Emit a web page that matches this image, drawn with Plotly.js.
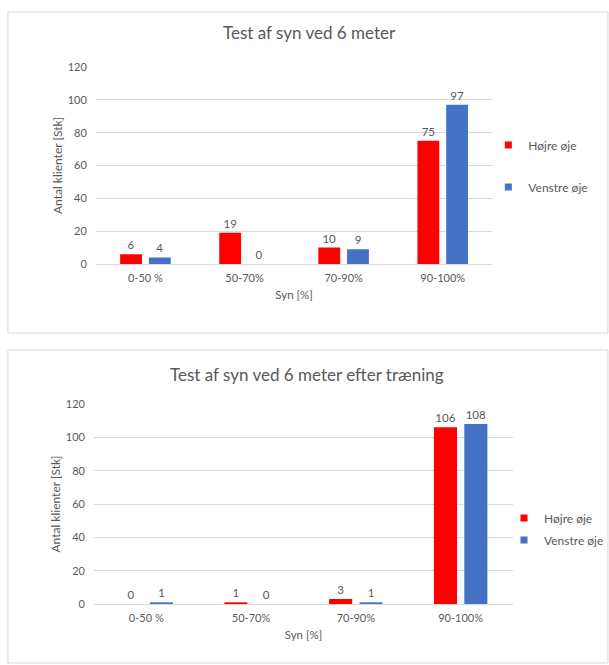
<!DOCTYPE html>
<html>
<head>
<meta charset="utf-8">
<script src="https://cdn.plot.ly/plotly-3.0.1.min.js"></script>
<style>
  html, body { margin: 0; padding: 0; background: #ffffff; }
  #chart { width: 609px; height: 665px; }
</style>
</head>
<body>
<div id="chart"></div>
<script>
// Vision test results by visual acuity band, before and after training
const categories = ['0-50 %', '50-70%', '70-90%', '90-100%'];
const seriesNames = ['Højre øje', 'Venstre øje'];

const beforeRight = [6, 19, 10, 75];
const beforeLeft = [4, 0, 9, 97];

const afterRight = [0, 1, 3, 106];
const afterLeft = [1, 0, 1, 108];

const titles = ['Test af syn ved 6 meter', 'Test af syn ved 6 meter efter træning'];
const xTitle = 'Syn [%]';
const yTitle = 'Antal klienter [Stk]';
const yTicks = [0, 20, 40, 60, 80, 100, 120];

const RED = '#FF0000';
const BLUE = '#4472C4';
const TEXT = '#595959';
const GRID = '#D9D9D9';
const FONT = 'Lato, "Open Sans", sans-serif';

const W = 609, H = 665;
const px = v => v / W;             // horizontal pixel -> paper
const py = v => 1 - v / H;         // vertical pixel (from top) -> paper

function barTrace(x, y, name, color, xa, ya) {
  return {
    type: 'bar', x: x, y: y, name: name,
    xaxis: xa, yaxis: ya,
    marker: { color: color },
    text: y.map(String),
    textposition: 'outside',
    textfont: { family: FONT, size: 11.5, color: TEXT },
    cliponaxis: false,
    showlegend: false,
    hoverinfo: 'x+y+name'
  };
}

// Small square swatches for the legends
function legendProxy(name, color, legend, group) {
  return {
    type: 'scatter', mode: 'markers', x: [null], y: [null], name: name,
    legend: legend, legendgroup: group,
    marker: { symbol: 'square', size: 7, color: color },
    xaxis: legend === 'legend' ? 'x' : 'x2',
    yaxis: legend === 'legend' ? 'y' : 'y2',
    hoverinfo: 'skip'
  };
}

const data = [
  barTrace(categories, beforeRight, seriesNames[0], RED, 'x', 'y'),
  barTrace(categories, beforeLeft, seriesNames[1], BLUE, 'x', 'y'),
  barTrace(categories, afterRight, seriesNames[0], RED, 'x2', 'y2'),
  barTrace(categories, afterLeft, seriesNames[1], BLUE, 'x2', 'y2'),
  legendProxy(seriesNames[0], RED, 'legend', 'a'),
  legendProxy(seriesNames[1], BLUE, 'legend', 'b'),
  legendProxy(seriesNames[0], RED, 'legend2', 'c'),
  legendProxy(seriesNames[1], BLUE, 'legend2', 'd')
];

function xAxis(domain, anchor) {
  return {
    domain: domain, anchor: anchor,
    type: 'category',
    showgrid: false, showline: false, zeroline: false,
    ticks: '',
    ticklabelstandoff: 6,
    tickfont: { family: FONT, size: 11, color: TEXT },
    title: { text: xTitle, font: { family: FONT, size: 11.5, color: TEXT }, standoff: 7 },
    automargin: false,
    fixedrange: true
  };
}

function yAxis(domain, anchor) {
  return {
    domain: domain, anchor: anchor,
    range: [0, 120],
    tickvals: yTicks,
    ticktext: yTicks.map(String),
    showgrid: true, gridcolor: GRID, gridwidth: 1,
    zeroline: true, zerolinecolor: GRID, zerolinewidth: 1,
    showline: false, ticks: '',
    ticklabelstandoff: 8,
    tickfont: { family: FONT, size: 11, color: TEXT },
    title: { text: yTitle, font: { family: FONT, size: 12, color: TEXT } },
    automargin: false,
    fixedrange: true
  };
}

const legendBase = {
  bgcolor: 'rgba(0,0,0,0)',
  font: { family: FONT, size: 12, color: TEXT },
  xanchor: 'left', yanchor: 'middle',
  itemwidth: 30,
  itemclick: false, itemdoubleclick: false
};

const layout = {
  width: W, height: H,
  margin: { l: 0, r: 0, t: 0, b: 0 },
  paper_bgcolor: '#ffffff',
  plot_bgcolor: '#ffffff',
  barmode: 'group',
  bargap: 0.42,
  bargroupgap: 0.24,
  font: { family: FONT, color: TEXT },

  xaxis: xAxis([px(97), px(498)], 'y'),
  yaxis: yAxis([py(264), py(67)], 'x'),
  xaxis2: xAxis([px(95), px(519)], 'y2'),
  yaxis2: yAxis([py(604), py(404)], 'x2'),

  legend: Object.assign({}, legendBase, {
    x: px(494), y: py(166), tracegroupgap: 23
  }),
  legend2: Object.assign({}, legendBase, {
    x: px(510), y: py(529), tracegroupgap: 3
  }),

  annotations: [
    { text: titles[0], xref: 'paper', yref: 'paper', x: px(313), y: py(33),
      xanchor: 'center', yanchor: 'middle', showarrow: false,
      font: { family: FONT, size: 17, color: TEXT } },
    { text: titles[1], xref: 'paper', yref: 'paper', x: px(311), y: py(374),
      xanchor: 'center', yanchor: 'middle', showarrow: false,
      font: { family: FONT, size: 17, color: TEXT } }
  ],

  // Chart area frames
  shapes: [
    { type: 'rect', xref: 'paper', yref: 'paper',
      x0: px(8), x1: px(615), y0: py(333), y1: py(12),
      line: { color: GRID, width: 1 }, fillcolor: 'rgba(0,0,0,0)', layer: 'below' },
    { type: 'rect', xref: 'paper', yref: 'paper',
      x0: px(8), x1: px(615), y0: py(663), y1: py(350),
      line: { color: GRID, width: 1 }, fillcolor: 'rgba(0,0,0,0)', layer: 'below' }
  ]
};

Plotly.newPlot('chart', data, layout, { staticPlot: true, displayModeBar: false });
</script>
</body>
</html>
